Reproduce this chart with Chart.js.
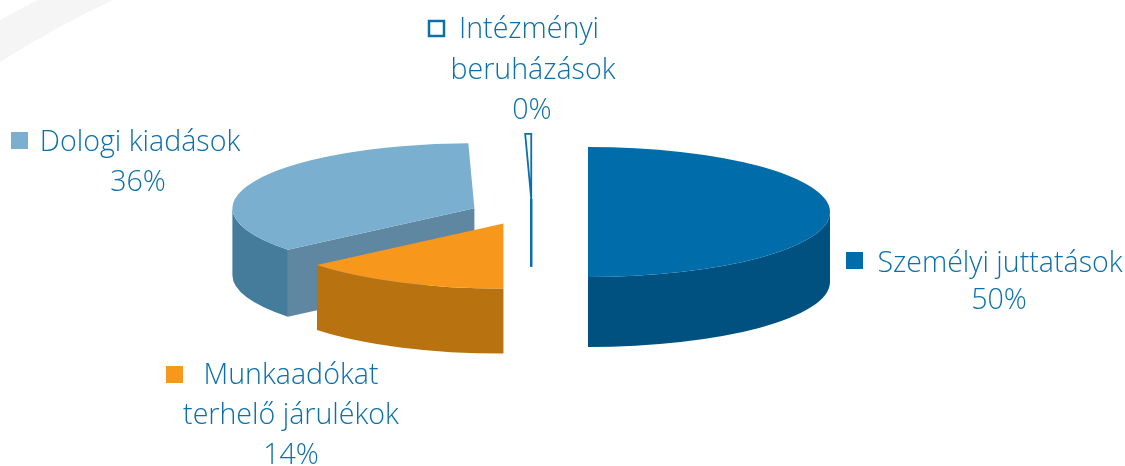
<!DOCTYPE html>
<html lang="hu">
<head>
<meta charset="utf-8">
<title>Kiadások megoszlása</title>
<script src="https://cdn.jsdelivr.net/npm/chart.js@4"></script>
<style>
  html, body { margin: 0; padding: 0; background: #fff; }
  canvas { display: block; }
</style>
</head>
<body>
<canvas id="pie" width="1125" height="466"></canvas>
<script>
// adatok
const categories = ["Személyi juttatások", "Munkaadókat terhelő járulékok", "Dologi kiadások", "Intézményi beruházások"];
const values = [50, 14, 35.6, 0.4];
const labelLines = [
  ["Személyi juttatások", "50%"],
  ["Munkaadókat", "terhelő járulékok", "14%"],
  ["Dologi kiadások", "36%"],
  ["Intézményi", "beruházások", "0%"]
];

// stílus
const topColors = ["#006ca9", "#f7981d", "#7bafcf", "#ffffff"];
const borderColors = ["#006ca9", "#f7981d", "#7bafcf", "#0a6fab"];
const outlined = [false, false, false, true];
const wallColors = ["#005080", "#b87210", "#457c9b", "#0a6fab"];
const faceColors = ["#005080", "#b87210", "#5f87a1", "#0a6fab"];
const depths = [70, 65, 67, 68];
const TEXT_COLOR = "#0b6fab";
const FONT = '300 28.6px "Open Sans", sans-serif';

// elrendezés
const CENTER_X = 529, CENTER_Y = 210, RADIUS = 242, SQUASH = 65 / 242, EXPLODE = 60;
const nudgeX = [-1, 0, 0, 3];
const nudgeY = [2, -1, 5, 5];
const markerPos = [[846, 252], [166, 366], [11, 132], [428, 20]];
// sorok közepe és alapvonala
const linePos = [
  [[1000, 272], [999, 309]],
  [[291, 384], [291, 424], [291, 464]],
  [[140, 151], [138, 191]],
  [[529, 38], [533, 79], [532, 119]]
];

function toPie(ctx, chart) {
  const area = chart.chartArea;
  ctx.translate(CENTER_X, CENTER_Y);
  ctx.scale(1, SQUASH);
  ctx.translate(-(area.left + area.right) / 2, -(area.top + area.bottom) / 2);
}

// oldalfalak és vágott lapok
const walls = {
  id: "walls",
  afterDatasetsUpdate(chart) {
    // szétnyitás: a középszög irányába toljuk a szeleteket
    chart.getDatasetMeta(0).data.forEach((arc, i) => {
      const mid = (arc.startAngle + arc.endAngle) / 2;
      arc.x += Math.cos(mid) * EXPLODE + nudgeX[i];
      arc.y += Math.sin(mid) * EXPLODE + nudgeY[i] / SQUASH;
    });
  },
  beforeDatasetsDraw(chart) {
    const ctx = chart.ctx;
    const arcs = chart.getDatasetMeta(0).data;
    // hátulról előre
    [3, 2, 0, 1].forEach((i) => {
      const arc = arcs[i];
      const r = arc.outerRadius;
      const d = depths[i] / SQUASH;
      ctx.save();
      toPie(ctx, chart);

      // a vékony szelet csak egy vonal
      if (outlined[i]) {
        ctx.beginPath();
        ctx.moveTo(arc.x, arc.y);
        ctx.lineTo(arc.x, arc.y + d);
        ctx.restore();
        ctx.strokeStyle = wallColors[i];
        ctx.lineWidth = 2.5;
        ctx.stroke();
        return;
      }

      // vágott lap
      const sa = arc.startAngle, ea = arc.endAngle;
      if (Math.cos(sa) < -0.001) {
        ctx.beginPath();
        ctx.moveTo(arc.x, arc.y);
        ctx.lineTo(arc.x + Math.cos(sa) * r, arc.y + Math.sin(sa) * r);
        ctx.lineTo(arc.x + Math.cos(sa) * r, arc.y + Math.sin(sa) * r + d);
        ctx.lineTo(arc.x, arc.y + d);
        ctx.closePath();
        ctx.fillStyle = faceColors[i];
        ctx.fill();
      }

      // külső fal
      const a0 = Math.max(sa, 0), a1 = Math.min(ea, Math.PI);
      if (a1 > a0) {
        ctx.beginPath();
        ctx.arc(arc.x, arc.y, r, a0, a1);
        ctx.arc(arc.x, arc.y + d, r, a1, a0, true);
        ctx.closePath();
        ctx.fillStyle = wallColors[i];
        ctx.fill();
      }
      ctx.restore();
    });

    ctx.save();
    toPie(ctx, chart);
  },
  afterDatasetsDraw(chart) {
    const ctx = chart.ctx;
    // körvonal a torzítás nélkül, hogy a teteje is látszódjon
    chart.getDatasetMeta(0).data.forEach((arc, i) => {
      if (!outlined[i]) return;
      ctx.beginPath();
      ctx.moveTo(arc.x, arc.y);
      ctx.arc(arc.x, arc.y, arc.outerRadius, arc.startAngle, arc.endAngle);
      ctx.closePath();
      ctx.save();
      ctx.setTransform(1, 0, 0, 1, 0, 0);
      ctx.strokeStyle = borderColors[i];
      ctx.lineWidth = 1.8;
      ctx.lineJoin = "miter";
      ctx.stroke();
      ctx.restore();
    });
    ctx.restore();
  }
};

// háttér ív a bal felső sarokban
const swoosh = {
  id: "swoosh",
  beforeDraw(chart) {
    const ctx = chart.ctx;
    ctx.save();
    ctx.beginPath();
    ctx.moveTo(0, 20);
    ctx.quadraticCurveTo(18, 10, 38, 0);
    ctx.lineTo(113, 0);
    ctx.quadraticCurveTo(55, 27, 0, 62);
    ctx.closePath();
    ctx.fillStyle = "#f5f5f5";
    ctx.fill();
    ctx.restore();
  }
};

// feliratok és jelölők
const labels = {
  id: "labels",
  afterDraw(chart) {
    const ctx = chart.ctx;
    ctx.save();
    categories.forEach((_, i) => {
      const [mx, my] = markerPos[i];
      if (outlined[i]) {
        ctx.strokeStyle = borderColors[i];
        ctx.lineWidth = 2.5;
        ctx.strokeRect(mx + 1, my + 1, 15, 15);
      } else {
        ctx.fillStyle = topColors[i];
        ctx.fillRect(mx, my, 17, 17);
      }
      ctx.fillStyle = TEXT_COLOR;
      ctx.font = FONT;
      ctx.textAlign = "center";
      ctx.textBaseline = "alphabetic";
      labelLines[i].forEach((line, k) => {
        ctx.fillText(line, linePos[i][k][0], linePos[i][k][1]);
      });
    });
    ctx.restore();
  }
};

new Chart(document.getElementById("pie"), {
  type: "pie",
  data: {
    labels: categories,
    datasets: [{
      data: values,
      backgroundColor: topColors,
      borderWidth: 0,
      clip: false
    }]
  },
  options: {
    responsive: false,
    animation: false,
    radius: RADIUS,
    layout: { padding: 0 },
    events: [],
    plugins: { legend: { display: false }, tooltip: { enabled: false } }
  },
  plugins: [swoosh, walls, labels]
});
</script>
</body>
</html>
